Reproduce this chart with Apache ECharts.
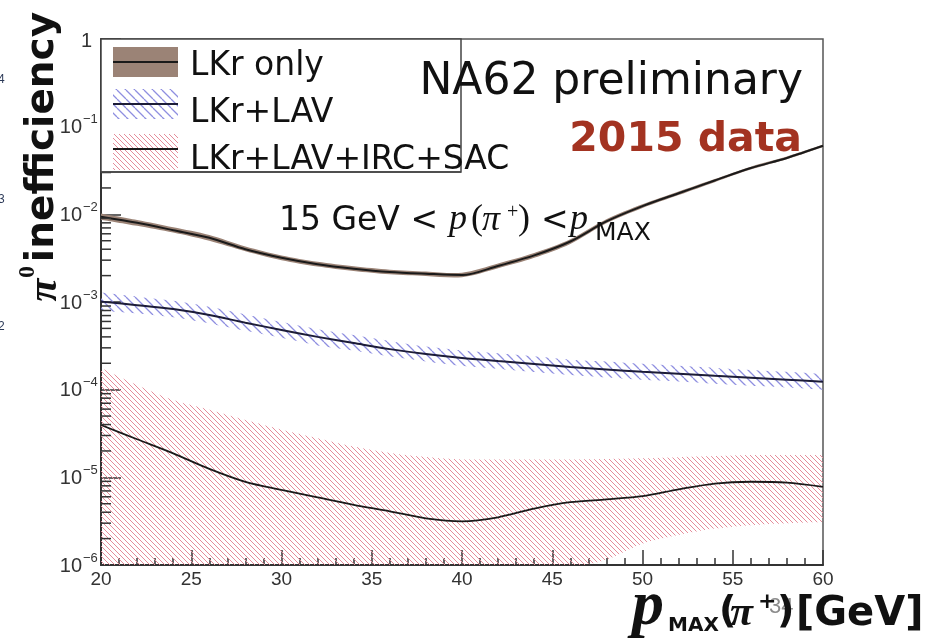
<!DOCTYPE html>
<html>
<head>
<meta charset="utf-8">
<script src="https://cdn.jsdelivr.net/npm/echarts@6/dist/echarts.min.js"></script>
<style>
  html, body { margin: 0; padding: 0; background: #ffffff; }
  #chart { width: 946px; height: 639px; }
</style>
</head>
<body>
<div id="chart"></div>
<script>
// p_MAX values (GeV) at which the efficiencies are sampled
const pMaxGeV = [20, 22, 24, 26, 28, 30, 32, 34, 36, 38, 40, 42, 44, 46, 48, 50, 52, 54, 56, 58, 60];

// LKr only: central value and uncertainty band
const lkrOnly     = [0.0094, 0.0080, 0.0066, 0.0054, 0.0040, 0.0032, 0.0027, 0.0024, 0.0022, 0.0021, 0.00203, 0.00258, 0.0034, 0.0049, 0.0083, 0.0124, 0.0174, 0.0243, 0.0337, 0.0440, 0.0605];
const lkrOnlyLow  = [0.0087, 0.0074, 0.0062, 0.0050, 0.0038, 0.0030, 0.00254, 0.00226, 0.00207, 0.00198, 0.00192, 0.00243, 0.0032, 0.0046, 0.0079, 0.0118, 0.0166, 0.0233, 0.0324, 0.0424, 0.0585];
const lkrOnlyHigh = [0.0102, 0.0086, 0.0071, 0.0058, 0.0043, 0.0034, 0.00288, 0.00256, 0.00234, 0.00223, 0.00216, 0.00275, 0.00362, 0.0052, 0.0088, 0.0130, 0.0182, 0.0253, 0.0350, 0.0456, 0.0625];

// LKr + LAV
const lkrLav     = [0.00101, 0.00092, 0.00083, 0.00071, 0.00058, 0.00048, 0.00040, 0.00034, 0.00029, 0.000255, 0.00023, 0.000212, 0.000196, 0.000181, 0.00017, 0.00016, 0.000152, 0.000144, 0.000137, 0.00013, 0.000123];
const lkrLavLow  = [0.00079, 0.00074, 0.00067, 0.00057, 0.00047, 0.00039, 0.00032, 0.00028, 0.00024, 0.00021, 0.000187, 0.000172, 0.000159, 0.000147, 0.000138, 0.00013, 0.000124, 0.000117, 0.000111, 0.000106, 0.0001];
const lkrLavHigh = [0.00128, 0.00115, 0.00103, 0.00088, 0.00072, 0.00059, 0.00049, 0.00042, 0.00036, 0.00031, 0.00028, 0.00026, 0.00024, 0.00022, 0.00021, 0.000197, 0.000187, 0.000177, 0.000168, 0.00016, 0.000151];

// LKr + LAV + IRC + SAC
const lkrAll     = [3.95e-5, 2.72e-5, 1.88e-5, 1.25e-5, 8.9e-6, 7.2e-6, 5.9e-6, 4.85e-6, 4.1e-6, 3.41e-6, 3.15e-6, 3.5e-6, 4.4e-6, 5.2e-6, 5.6e-6, 6.1e-6, 7.3e-6, 8.5e-6, 8.9e-6, 8.7e-6, 7.8e-6];
const lkrAllLow  = [7e-7, 6e-7, 6e-7, 6e-7, 6e-7, 6e-7, 6e-7, 6e-7, 6e-7, 6e-7, 6e-7, 6e-7, 6e-7, 8e-7, 1.15e-6, 1.75e-6, 2.2e-6, 2.6e-6, 2.85e-6, 3.0e-6, 3.1e-6];
const lkrAllHigh = [1.77e-4, 1.13e-4, 7.6e-5, 5.9e-5, 4.5e-5, 3.5e-5, 2.8e-5, 2.25e-5, 1.9e-5, 1.71e-5, 1.6e-5, 1.6e-5, 1.6e-5, 1.6e-5, 1.62e-5, 1.65e-5, 1.7e-5, 1.75e-5, 1.8e-5, 1.8e-5, 1.8e-5];

// legend entries
const legendNames = ['LKr only', 'LKr+LAV', 'LKr+LAV+IRC+SAC'];

// decade labels of the log axis
const yDecades = [1, 1e-1, 1e-2, 1e-3, 1e-4, 1e-5, 1e-6];

// minor tick positions on the log axis (2..9 in every decade)
const yMinorTicks = [];
for (let d = -6; d < 0; d++) {
  for (let k = 2; k <= 9; k++) yMinorTicks.push(+(k * Math.pow(10, d)).toPrecision(3));
}

const SANS = '"Liberation Sans", Arial, sans-serif';
const SLIDE = '"DejaVu Sans", sans-serif';
const SERIF = '"Liberation Serif", "Times New Roman", serif';
const BROWN = '#9b8376';

function hatch(color, step, width) {
  const c = document.createElement('canvas');
  c.width = step; c.height = step;
  const g = c.getContext('2d');
  g.strokeStyle = color; g.lineWidth = width;
  g.beginPath();
  for (const o of [-step, 0, step]) { g.moveTo(o, 0); g.lineTo(o + step, step); }
  g.stroke();
  return { image: c, repeat: 'repeat' };
}
const redHatch = hatch('#e58c9a', 5, 1);
const blueHatch = hatch('#8e8ee0', 9, 1.3);

function pairs(vals) { return pMaxGeV.map((x, i) => [x, vals[i]]); }

// cubic segments through pixel points (Catmull-Rom style tangents)
function smoothSegments(pts, t) {
  let d = '';
  for (let i = 0; i < pts.length - 1; i++) {
    const p0 = pts[Math.max(i - 1, 0)], p1 = pts[i], p2 = pts[i + 1], p3 = pts[Math.min(i + 2, pts.length - 1)];
    const c1x = p1[0] + (p2[0] - p0[0]) * t, c1y = p1[1] + (p2[1] - p0[1]) * t;
    const c2x = p2[0] - (p3[0] - p1[0]) * t, c2y = p2[1] - (p3[1] - p1[1]) * t;
    d += ' C' + c1x.toFixed(2) + ',' + c1y.toFixed(2) + ' ' + c2x.toFixed(2) + ',' + c2y.toFixed(2) + ' ' + p2[0].toFixed(2) + ',' + p2[1].toFixed(2);
  }
  return d;
}

// filled uncertainty band between two value arrays
function band(id, low, high, fill) {
  return {
    type: 'custom', name: id, silent: true, z: 1, clip: true,
    data: pMaxGeV.map((x, i) => [x, low[i], high[i]]),
    encode: { x: 0, y: [1, 2] },
    renderItem: function (params, api) {
      if (params.dataIndex !== 0) return null;
      const cs = params.coordSys;
      const clampY = y => Math.max(cs.y - 2, Math.min(cs.y + cs.height + 2, y));
      const up = pMaxGeV.map((x, i) => { const p = api.coord([x, high[i]]); return [p[0], clampY(p[1])]; });
      const dn = pMaxGeV.map((x, i) => { const p = api.coord([x, low[i]]); return [p[0], clampY(p[1])]; }).reverse();
      const d = 'M' + up[0][0] + ',' + up[0][1] + smoothSegments(up, 0.15) +
                ' L' + dn[0][0] + ',' + dn[0][1] + smoothSegments(dn, 0.15) + ' Z';
      return { type: 'path', shape: { pathData: d }, style: { fill: fill, stroke: null } };
    }
  };
}

function curve(name, vals, color, width) {
  return { type: 'line', name: name, data: pairs(vals), smooth: 0.3, symbol: 'none',
    lineStyle: { color: color, width: width }, z: 5 };
}

const chart = echarts.init(document.getElementById('chart'), null, { renderer: 'canvas' });

const txt = (x, y, text, font, fill, align, extra) => Object.assign({
  type: 'text', x: x, y: y, z: 60,
  style: { text: text, font: font, fill: fill || '#111', align: align || 'left', textAlign: align || 'left',
           verticalAlign: 'middle', textVerticalAlign: 'middle' }
}, extra || {});

chart.setOption({
  animation: false,
  backgroundColor: '#ffffff',
  grid: { left: 101, right: 123, top: 39, bottom: 74, show: true, borderColor: '#555', borderWidth: 1.5 },
  xAxis: {
    type: 'value', min: 20, max: 60, interval: 5,
    axisLine: { lineStyle: { color: '#333', width: 2 } },
    axisTick: { inside: true, length: 15, lineStyle: { color: '#333', width: 1.5 } },
    minorTick: { show: true, splitNumber: 5, length: 7, lineStyle: { color: '#333', width: 1.5 } },
    splitLine: { show: false },
    axisLabel: { fontSize: 19, fontFamily: SANS, color: '#333', margin: 5 }
  },
  yAxis: {
    type: 'log', logBase: 10, min: 1e-6, max: 1, splitNumber: 6,
    axisLine: { lineStyle: { color: '#333', width: 2 } },
    axisTick: { inside: true, length: 20, lineStyle: { color: '#333', width: 1.5 } },
    splitLine: { show: false },
    axisLabel: { show: false }
  },
  series: [
    band('irc', lkrAllLow, lkrAllHigh, redHatch),
    band('lav', lkrLavLow, lkrLavHigh, blueHatch),
    band('lkr', lkrOnlyLow, lkrOnlyHigh, BROWN),
    curve(legendNames[2], lkrAll, '#1a1a1a', 1.8),
    curve(legendNames[1], lkrLav, '#1c1c38', 2),
    curve(legendNames[0], lkrOnly, '#1a1a1a', 2),
    {
      type: 'custom', name: 'minor-ticks', silent: true, z: 6,
      data: yMinorTicks.map(v => [20, v]),
      encode: { x: 0, y: 1 },
      renderItem: function (params, api) {
        const p = api.coord([api.value(0), api.value(1)]);
        return { type: 'line', shape: { x1: p[0], y1: p[1], x2: p[0] + 10, y2: p[1] },
                 style: { stroke: '#333', lineWidth: 1.5 } };
      }
    },
    {
      // decade labels written as 10 with a raised exponent
      type: 'custom', name: 'decade-labels', silent: true, z: 6, clip: false,
      data: yDecades.map(v => [20, v]),
      encode: { x: 0, y: 1 },
      renderItem: function (params, api) {
        const v = api.value(1);
        const p = api.coord([api.value(0), v]);
        const e = Math.round(Math.log10(v));
        if (e === 0) {
          return { type: 'text', x: p[0] - 9, y: p[1] + 2,
                   style: { text: '1', font: '20px ' + SANS, fill: '#333', align: 'right', verticalAlign: 'middle' } };
        }
        return { type: 'group', children: [
          { type: 'text', x: p[0] - 19, y: p[1] + 1,
            style: { text: '10', font: '20px ' + SANS, fill: '#333', align: 'right', verticalAlign: 'middle' } },
          { type: 'text', x: p[0] - 18, y: p[1] - 7,
            style: { text: '\u2212' + (-e), font: '13px ' + SANS, fill: '#333', align: 'left', verticalAlign: 'middle' } }
        ] };
      }
    }
  ],
  graphic: [
    // legend box
    { type: 'rect', z: 50, shape: { x: 101, y: 39, width: 360, height: 133 },
      style: { fill: '#ffffff', stroke: '#444', lineWidth: 1.5 } },
    { type: 'rect', z: 51, shape: { x: 113, y: 47, width: 65, height: 30 }, style: { fill: BROWN } },
    { type: 'line', z: 52, shape: { x1: 113, y1: 62, x2: 178, y2: 62 }, style: { stroke: '#1a1a1a', lineWidth: 2 } },
    { type: 'rect', z: 51, shape: { x: 113, y: 89, width: 65, height: 30 }, style: { fill: blueHatch } },
    { type: 'line', z: 52, shape: { x1: 113, y1: 104, x2: 178, y2: 104 }, style: { stroke: '#1c1c38', lineWidth: 2 } },
    { type: 'rect', z: 51, shape: { x: 113, y: 134, width: 65, height: 36 }, style: { fill: redHatch } },
    { type: 'line', z: 52, shape: { x1: 113, y1: 149, x2: 178, y2: 149 }, style: { stroke: '#1a1a1a', lineWidth: 2 } },
    txt(190, 66, legendNames[0], '33px ' + SLIDE),
    txt(190, 113, legendNames[1], '33px ' + SLIDE),
    txt(190, 160, legendNames[2], '33px ' + SLIDE),
    // the box edge runs through the long legend label
    { type: 'line', z: 61, shape: { x1: 101, y1: 172, x2: 461, y2: 172 }, style: { stroke: '#444', lineWidth: 1.5 } },

    // header
    txt(803, 83, 'NA62 preliminary', '44px ' + SLIDE, '#111', 'right'),
    txt(802, 140, '2015 data', 'bold 41px ' + SLIDE, '#a33321', 'right'),

    // momentum window
    txt(279, 221, '15 GeV <', '33px ' + SLIDE),
    txt(449, 220, 'p', 'italic 36px ' + SERIF),
    txt(471, 220, '(', '36px ' + SERIF),
    txt(482, 221, '\u03c0', 'italic 36px ' + SERIF),
    txt(507, 213, '+', '20px ' + SERIF),
    txt(518, 220, ')', '36px ' + SERIF),
    txt(541, 221, '<', '33px ' + SLIDE),
    txt(570, 220, 'p', 'italic 36px ' + SERIF),
    txt(595, 233, 'MAX', '25px ' + SLIDE),

    // y-axis title
    txt(43, 137, 'inefficiency', 'bold 39px ' + SLIDE, '#111', 'center', { rotation: Math.PI / 2 }),
    txt(45, 290, '\u03c0', 'bold italic 42px ' + SERIF, '#111', 'center', { rotation: Math.PI / 2 }),
    txt(28, 272, '0', 'bold 24px ' + SERIF, '#111', 'center', { rotation: Math.PI / 2 }),

    // x-axis title
    txt(632, 607, 'p', 'bold italic 64px ' + SERIF),
    txt(668, 626, 'MAX', 'bold 20px ' + SLIDE),
    txt(719, 612, '(', 'bold 38px ' + SLIDE),
    txt(730, 614, '\u03c0', 'bold italic 42px ' + SERIF),
    txt(769, 607, '34', '22px ' + SANS, '#8c8c8c'),
    txt(758, 602, '+', 'bold 22px ' + SLIDE),
    txt(777, 612, ')', 'bold 38px ' + SLIDE),
    txt(796, 615, '[GeV]', 'bold 40px ' + SLIDE),

    // stray page marks at the left edge
    txt(-2, 80, '4', '12px ' + SANS, '#2c3a58'),
    txt(-2, 200, '3', '12px ' + SANS, '#2c3a58'),
    txt(-2, 327, '2', '12px ' + SANS, '#2c3a58')
  ]
});
</script>
</body>
</html>
